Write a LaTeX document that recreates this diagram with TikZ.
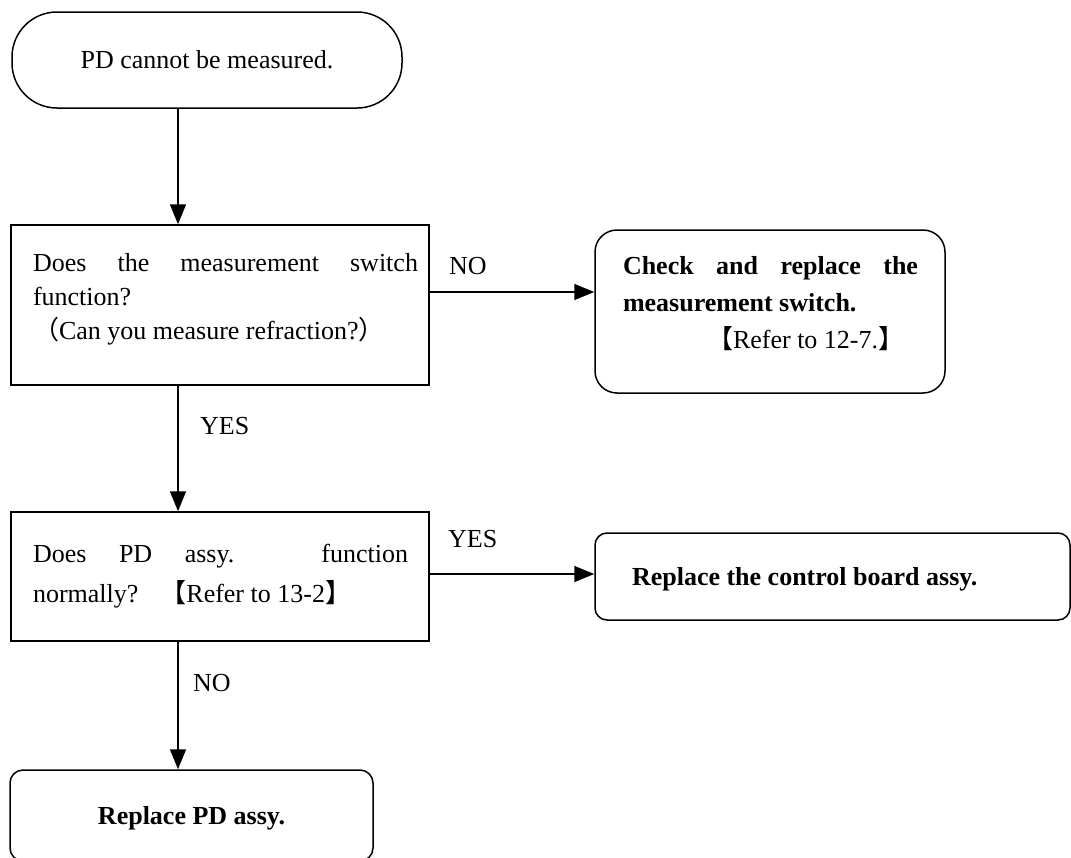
\documentclass[tikz,border=0pt]{standalone}
\usepackage{fontspec}
\setmainfont{Liberation Serif}
\newfontfamily\cjk{Noto Sans CJK JP}
\usetikzlibrary{arrows.meta}

% fixed-size text block: width, height, top pad, left pad, lines
\newcommand{\fcpar}[5]{%
  \parbox[c][#2][t]{#1}{\vspace*{#3}\leftskip=#4\relax #5}}

\tikzset{
  fc/.style={draw, line width=1.5pt, inner sep=0pt,
    font=\fontsize{26}{34}\selectfont},
  arr/.style={line width=1.5pt, -{Triangle[length=20pt,width=16pt]}},
  lbl/.style={font=\fontsize{26}{30}\selectfont, inner sep=0pt, anchor=base west},
}

\begin{document}
\begin{tikzpicture}[x=1pt, y=-1pt]
\fill[white] (0,0) rectangle (1071,857);
\useasboundingbox (0,0) rectangle (1071,857);

% start
\node[fc, rounded corners=45pt, minimum width=390pt, minimum height=96pt]
  (start) at (207,60) {PD cannot be measured.};

% first question
\node[fc, minimum width=418pt, minimum height=160pt] (q1) at (220,305)
  {\fcpar{418pt}{160pt}{22.5pt}{22pt}{\strut\makebox[385pt][s]{Does the measurement switch}\\
   function?\\
   {\cjk （}Can you measure refraction?{\cjk ）}}};

% switch check
\node[fc, rounded corners=22pt, minimum width=350pt, minimum height=163pt]
  (chk) at (770,311.5)
  {\fcpar{350pt}{163pt}{18.5pt}{28pt}{\fontsize{26}{37}\selectfont\bfseries
   \strut\makebox[295pt][s]{Check and replace the}\\
   measurement switch.\\
   \mdseries\hspace*{84pt}{\cjk 【}Refer to 12-7.{\cjk 】}}};

% second question
\node[fc, minimum width=418pt, minimum height=129pt] (q2) at (220,576.5)
  {\fcpar{418pt}{129pt}{22pt}{22pt}{\fontsize{26}{40}\selectfont
   \strut\makebox[375pt][s]{Does PD assy. function}\\
   normally?\hspace*{22pt}{\cjk 【}Refer to 13-2{\cjk 】}}};

% control board
\node[fc, rounded corners=12pt, minimum width=475pt, minimum height=87pt]
  (ctrl) at (832.5,576.5)
  {\fcpar{475pt}{87pt}{28.2pt}{37pt}{\bfseries\strut Replace the control board assy.}};

% PD assy
\node[fc, rounded corners=13pt, minimum width=363pt, minimum height=91pt]
  (fix) at (191.5,815.5)
  {\fcpar{363pt}{91pt}{31pt}{0pt}{\centering\bfseries\strut Replace PD assy.\par}};

% branch labels
\node[lbl] (no1) at (449,274) {NO};
\node[lbl] (yes1) at (200,434) {YES};
\node[lbl] (yes2) at (448,547) {YES};
\node[lbl] (no2) at (193,691) {NO};

% connectors
\coordinate (spine) at (178,0);
\coordinate (row1) at (0,292);
\coordinate (row2) at (0,574);
\draw[arr] (start.south -| spine) -- (q1.north -| spine);
\draw[arr] (q1.south -| spine) -- (q2.north -| spine);
\draw[arr] (q2.south -| spine) -- (fix.north -| spine);
\draw[arr] (q1.east |- row1) -- (chk.west |- row1);
\draw[arr] (q2.east |- row2) -- (ctrl.west |- row2);
\end{tikzpicture}
\end{document}
